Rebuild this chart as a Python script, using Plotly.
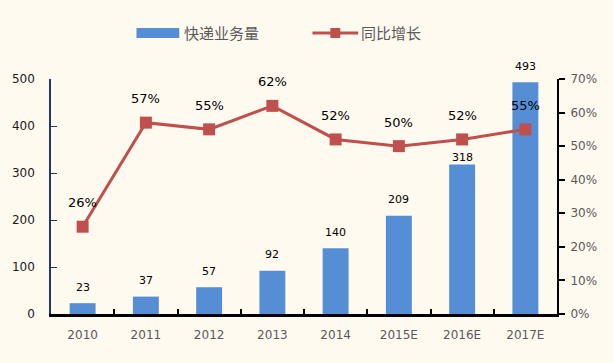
import plotly.graph_objects as go

categories = ["2010", "2011", "2012", "2013", "2014", "2015E", "2016E", "2017E"]
volume = [23, 37, 57, 92, 140, 209, 318, 493]
growth = [26, 57, 55, 62, 52, 50, 52, 55]
left_ticks = [0, 100, 200, 300, 400, 500]
right_ticks = [0, 10, 20, 30, 40, 50, 60, 70]

BAR = "#558ED5"
LINE = "#C0504D"
BG = "#FFFAF0"
GRAY = "#595959"
FONT = "DejaVu Sans, Verdana, sans-serif"
CJK = "Noto Sans CJK SC, sans-serif"

Y1MAX, Y2MAX, PLOT_H = 500, 70, 235

fig = go.Figure()
fig.add_trace(go.Bar(x=categories, y=volume, marker=dict(color=BAR, line=dict(width=0)),
                     name="快递业务量", yaxis="y"))
fig.add_trace(go.Scatter(x=categories, y=growth, mode="lines+markers", yaxis="y2",
                         line=dict(color=LINE, width=3),
                         marker=dict(symbol="square", size=12, color=LINE),
                         name="同比增长"))

ann = []
for i, (v, g) in enumerate(zip(volume, growth)):
    # drop the bar label closer to the bar if the line marker sits just above it
    gap = PLOT_H * g / Y2MAX - PLOT_H * v / Y1MAX
    shift = 7 if 0 < gap < 30 else 16
    ann.append(dict(x=i, y=v, xref="x", yref="y", text=str(v), showarrow=False,
                    yshift=shift, font=dict(size=11, color="#000000", family=FONT)))
for i, v in enumerate(growth):
    ann.append(dict(x=i, y=v, xref="x", yref="y2", text=f"{v}%", showarrow=False,
                    yshift=24, font=dict(size=13, color="#000000", family=FONT)))

# custom legend (paper coords)
def px2x(p):
    return (p - 48) / 509.0

def py2y(p):
    return (314 - p) / 235.0

ann.append(dict(x=px2x(180), y=py2y(33), xref="paper", yref="paper", text="快递业务量",
                showarrow=False, xanchor="left", yanchor="middle",
                font=dict(size=15, color=GRAY, family=CJK)))
ann.append(dict(x=px2x(358), y=py2y(33), xref="paper", yref="paper", text="同比增长",
                showarrow=False, xanchor="left", yanchor="middle",
                font=dict(size=15, color=GRAY, family=CJK)))

shapes = [
    dict(type="rect", xref="paper", yref="paper", x0=px2x(134), x1=px2x(177),
         y0=py2y(38), y1=py2y(28), fillcolor=BAR, line=dict(width=0)),
    dict(type="line", xref="paper", yref="paper", x0=px2x(311), x1=px2x(357),
         y0=py2y(33), y1=py2y(33), line=dict(color=LINE, width=3)),
    dict(type="rect", xref="paper", yref="paper", x0=px2x(329), x1=px2x(339),
         y0=py2y(38), y1=py2y(28), fillcolor=LINE, line=dict(width=0)),
]

fig.update_layout(
    width=613, height=363,
    margin=dict(l=48, r=56, t=79, b=49),
    paper_bgcolor=BG, plot_bgcolor=BG,
    showlegend=False,
    bargap=0.59,
    annotations=ann,
    shapes=shapes,
    xaxis=dict(type="category", range=[-0.5, len(categories) - 0.5], autorange=False,
               showline=True, linecolor="#000000", linewidth=3,
               ticks="inside", tickson="boundaries", ticklen=5, tickwidth=2,
               tickcolor="#000000", showgrid=False, tickangle=0,
               ticklabelstandoff=8,
               tickfont=dict(size=12, color=GRAY, family=FONT)),
    yaxis=dict(range=[0, Y1MAX], autorange=False, tickvals=left_ticks, showline=True,
               linecolor="#1F3864", linewidth=1.5, ticks="inside", ticklen=6,
               tickcolor="#1F3864", showgrid=False, zeroline=False,
               ticklabelstandoff=12,
               tickfont=dict(size=12, color="#1a1a1a", family=FONT)),
    yaxis2=dict(range=[0, Y2MAX], autorange=False, tickvals=right_ticks,
                ticktext=[f"{t}%" for t in right_ticks],
                overlaying="y", side="right", showline=True, linecolor="#000000",
                linewidth=2, ticks="outside", ticklen=6, tickwidth=2,
                tickcolor="#000000", showgrid=False, zeroline=False,
                ticklabelstandoff=3,
                tickfont=dict(size=12, color=GRAY, family=FONT)),
)

fig.write_html("out.html", config={"displayModeBar": False},
               post_script="document.body.style.margin='0px';document.body.style.padding='0px';document.body.style.background='" + BG + "';")
